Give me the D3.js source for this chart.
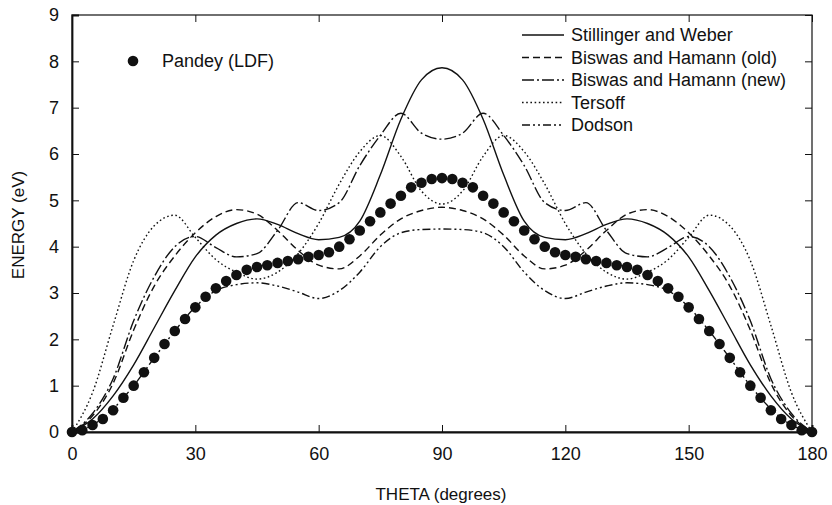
<!DOCTYPE html>
<html>
<head>
<meta charset="utf-8">
<script src="https://d3js.org/d3.v7.min.js"></script>
<style>
  body { margin: 0; background: #fff; }
  svg { font-family: "Liberation Sans", Arial, sans-serif; }
  .curve { fill: none; stroke: #111; stroke-width: 1.4; }
  .axis text { font-size: 18px; fill: #111; }
  .axis path, .axis line { stroke: #111; }
</style>
</head>
<body>
<svg width="832" height="505"></svg>
<script>
// half-curves 0..90 deg, mirrored to 180
var theta5 = [0, 5, 10, 15, 20, 25, 30, 35, 40, 45, 50, 55, 60, 65, 70, 75, 80, 85, 90];

var stillinger = [0, 0.28, 0.78, 1.45, 2.25, 3.05, 3.78, 4.25, 4.5, 4.6, 4.48, 4.28, 4.15, 4.2, 4.55, 5.55, 6.75, 7.6, 7.86];
var biswasOld  = [0, 0.35, 1.05, 2.2, 3.15, 3.8, 4.3, 4.65, 4.8, 4.7, 4.35, 3.92, 3.6, 3.52, 3.8, 4.25, 4.6, 4.78, 4.85];
var biswasNew  = [0, 0.4, 1.15, 2.4, 3.35, 4.0, 4.22, 3.98, 3.78, 3.85, 4.35, 4.95, 4.78, 4.95, 5.75, 6.4, 6.88, 6.45, 6.32];
var tersoff    = [0, 0.85, 2.3, 3.7, 4.45, 4.68, 4.2, 3.72, 3.45, 3.3, 3.45, 3.85, 4.5, 5.35, 6.05, 6.4, 5.95, 5.2, 4.92];
var dodson     = [0, 0.15, 0.5, 1.0, 1.6, 2.18, 2.7, 3.05, 3.18, 3.22, 3.15, 3.02, 2.88, 3.05, 3.45, 4.0, 4.3, 4.37, 4.38];

// Pandey (LDF) points every 2.5 deg, 0..90
var pandeyTheta = d3.range(0, 90.1, 2.5);
var pandey = [0, 0.04, 0.15, 0.28, 0.47, 0.74, 1.0, 1.29, 1.6, 1.9, 2.18, 2.44, 2.69, 2.92, 3.1, 3.26, 3.39,
              3.5, 3.56, 3.6, 3.65, 3.69, 3.73, 3.78, 3.82, 3.88, 4.0, 4.16, 4.35, 4.55, 4.74, 4.93, 5.1,
              5.28, 5.38, 5.46, 5.48];

var seriesNames = ["Stillinger and Weber", "Biswas and Hamann (old)", "Biswas and Hamann (new)", "Tersoff", "Dodson"];
var seriesDash = ["none", "7,4", "12,3,2,3", "1.6,2.6", "8,3,2,3,2,3"];
var seriesData = [stillinger, biswasOld, biswasNew, tersoff, dodson];

var xTicks = [0, 30, 60, 90, 120, 150, 180];
var yTicks = [0, 1, 2, 3, 4, 5, 6, 7, 8, 9];

function mirror(t, v) {
  var pts = t.map(function(d, i) { return [d, v[i]]; });
  for (var i = t.length - 2; i >= 0; i--) pts.push([180 - t[i], v[i]]);
  return pts;
}

var svg = d3.select("svg");

var x = d3.scaleLinear().domain([0, 180]).range([72, 812]);
var y = d3.scaleLinear().domain([0, 9]).range([432, 15]);

// frame
svg.append("rect")
    .attr("x", 72).attr("y", 15)
    .attr("width", 740).attr("height", 417)
    .attr("fill", "none").attr("stroke", "#111").attr("stroke-width", 1.2);

var gx = svg.append("g").attr("class", "axis")
    .attr("transform", "translate(0,432)")
    .call(d3.axisBottom(x).tickValues(xTicks).tickSize(-7).tickPadding(15));
gx.select(".domain").attr("stroke-width", 2);

svg.append("g").attr("class", "axis")
    .attr("transform", "translate(0,15)")
    .call(d3.axisTop(x).tickValues(xTicks).tickSize(-7).tickFormat(""))
    .select(".domain").remove();

var gy = svg.append("g").attr("class", "axis")
    .attr("transform", "translate(72,0)")
    .call(d3.axisLeft(y).tickValues(yTicks).tickSize(-7).tickPadding(13));
gy.select(".domain").attr("stroke-width", 1.8);

svg.append("g").attr("class", "axis")
    .attr("transform", "translate(812,0)")
    .call(d3.axisRight(y).tickValues(yTicks).tickSize(-7).tickFormat(""))
    .select(".domain").remove();

// axis titles
svg.append("text")
    .attr("x", 441).attr("y", 500)
    .attr("text-anchor", "middle")
    .attr("font-size", 17).attr("fill", "#111")
    .text("THETA (degrees)");

svg.append("text")
    .attr("transform", "translate(24,225) rotate(-90)")
    .attr("text-anchor", "middle")
    .attr("font-size", 17).attr("fill", "#111")
    .text("ENERGY (eV)");

// curves
var line = d3.line()
    .x(function(d) { return x(d[0]); })
    .y(function(d) { return y(d[1]); })
    .curve(d3.curveMonotoneX);

seriesData.forEach(function(v, i) {
  svg.append("path")
      .attr("class", "curve")
      .attr("d", line(mirror(theta5, v)))
      .attr("stroke-dasharray", seriesDash[i]);
});

// Pandey dots
svg.append("g")
  .selectAll("circle")
  .data(mirror(pandeyTheta, pandey))
  .enter().append("circle")
    .attr("cx", function(d) { return x(d[0]); })
    .attr("cy", function(d) { return y(d[1]); })
    .attr("r", 5.3)
    .attr("fill", "#111");

// legends
svg.append("circle").attr("cx", 133).attr("cy", 61).attr("r", 5.3).attr("fill", "#111");
svg.append("text")
    .attr("x", 162).attr("y", 61).attr("dy", "0.35em")
    .attr("font-size", 18).attr("fill", "#111")
    .text("Pandey (LDF)");

var leg = svg.append("g").selectAll("g")
  .data(seriesNames)
  .enter().append("g")
    .attr("transform", function(d, i) { return "translate(0," + (35 + i * 22.5) + ")"; });

leg.append("line")
    .attr("x1", 522).attr("x2", 564)
    .attr("stroke", "#111").attr("stroke-width", 1.4)
    .attr("stroke-dasharray", function(d, i) { return seriesDash[i]; });

leg.append("text")
    .attr("x", 571).attr("dy", "0.35em")
    .attr("font-size", 18).attr("fill", "#111")
    .text(function(d) { return d; });
</script>
</body>
</html>
